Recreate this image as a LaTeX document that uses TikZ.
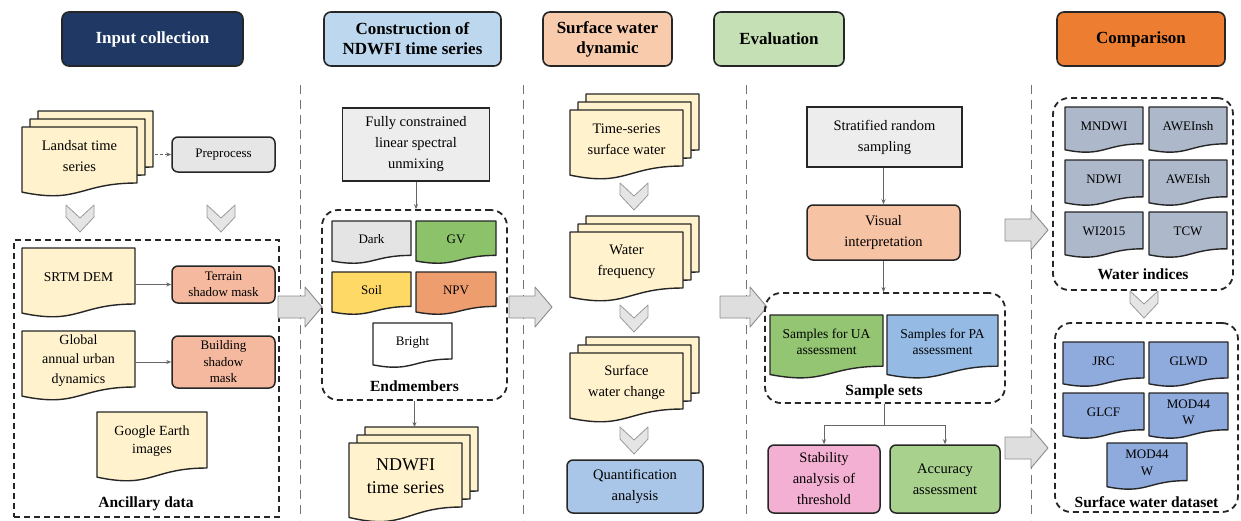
\documentclass[tikz,border=0pt]{standalone}
\usepackage{fontspec}
\setmainfont{Liberation Serif}
\usetikzlibrary{arrows.meta}
\definecolor{navy}{HTML}{203864}
\definecolor{tblue}{HTML}{BDD7EE}
\definecolor{tpeach}{HTML}{F8CBAD}
\definecolor{tgreen}{HTML}{C5E0B4}
\definecolor{torange}{HTML}{ED7D31}
\definecolor{cream}{HTML}{FFF2CC}
\definecolor{lgray}{HTML}{E7E6E6}
\definecolor{salmon}{HTML}{F4B99E}
\definecolor{lgraytwo}{HTML}{EDEDED}
\definecolor{dgray}{HTML}{E4E4E4}
\definecolor{gvgreen}{HTML}{8CC26A}
\definecolor{soilyel}{HTML}{FFD966}
\definecolor{npvor}{HTML}{EE9E6E}
\definecolor{qblue}{HTML}{A9C6E8}
\definecolor{peachtwo}{HTML}{F7C3A5}
\definecolor{greentwo}{HTML}{93C572}
\definecolor{bluetwo}{HTML}{95BBE5}
\definecolor{pinkbox}{HTML}{F4B0D2}
\definecolor{greenthree}{HTML}{A9D18E}
\definecolor{wgray}{HTML}{ADB9CA}
\definecolor{dsblue}{HTML}{8FAADC}
\newcommand{\fA}{\fontsize{14.5}{21}\selectfont}
\newcommand{\fB}{\fontsize{13}{16.5}\selectfont}
\newcommand{\fC}{\fontsize{13.5}{16.5}\selectfont}
\newcommand{\fD}{\fontsize{14}{19.5}\selectfont}
\newcommand{\fT}{\fontsize{17}{20}\selectfont\bfseries}
\newcommand{\fL}{\fontsize{15.5}{18}\selectfont\bfseries}
\newcommand{\docshape}[5]{%
  \draw[docline, fill=#5] ({#1},{#2}) -- ({#3},{#2}) -- ({#3},{(#2)+0.8*((#4)-(#2))})
   .. controls ({((#1)+(#3))/2},{(#2)+0.8*((#4)-(#2))}) and ({((#1)+(#3))/2},{(#2)+1.1*((#4)-(#2))})
   .. ({#1},{(#2)+0.93*((#4)-(#2))}) -- cycle;}
\newcommand{\docnode}[8]{%
  \docshape{#2}{#3}{#4}{#5}{#6}
  \node[txt, font=#7, minimum width={(#4)-(#2)}, minimum height={0.84*((#5)-(#3))}]
    (#1) at ({((#2)+(#4))/2},{(#3)+0.42*((#5)-(#3))}) {#8};}
\newcommand{\stackdoc}[8]{%
  \docshape{(#2)+16}{(#3)-16}{(#4)+16}{(#5)-16}{#6}
  \docshape{(#2)+8}{(#3)-8}{(#4)+8}{(#5)-8}{#6}
  \docnode{#1}{#2}{#3}{#4}{#5}{#6}{#7}{#8}}
\newcommand{\mychev}[2]{%
  \draw[chev] ({(#1)-14},{#2}) -- ({#1},{(#2)+13}) -- ({(#1)+14},{#2}) -- ({(#1)+14},{(#2)+12})
   -- ({#1},{(#2)+27}) -- ({(#1)-14},{(#2)+12}) -- cycle;}
\newcommand{\myarrow}[3]{%
  \draw[barrow] ({#1},{(#3)-11}) -- ({(#2)-17},{(#3)-11}) -- ({(#2)-17},{(#3)-20}) -- ({#2},{#3})
   -- ({(#2)-17},{(#3)+20}) -- ({(#2)-17},{(#3)+11}) -- ({#1},{(#3)+11}) -- cycle;}
\begin{document}
\begin{tikzpicture}[x=1pt,y=-1pt,
  title/.style={draw=black!85, line width=1.6pt, rounded corners=7pt, minimum height=54pt, align=center, font=\fT, inner sep=2pt},
  rbox/.style={draw=black!85, line width=1.5pt, rounded corners=6pt, align=center, font=\fA, inner sep=2pt},
  sbox/.style={draw=black!85, line width=1.5pt, align=center, font=\fA, inner sep=2pt},
  txt/.style={align=center, inner sep=0pt},
  docline/.style={draw=black!85, line width=1.4pt, line join=round},
  grp/.style={draw=black!85, dash pattern=on 6pt off 4pt, line width=1.8pt, inner sep=0pt},
  lbl/.style={font=\fL, inner sep=0pt},
  sep/.style={draw=black!55, line width=0.8pt, dash pattern=on 9pt off 6pt},
  conn/.style={draw=black!60, line width=0.9pt, -{Stealth[length=5pt,width=4pt]}},
  plain/.style={draw=black!60, line width=0.9pt},
  chev/.style={draw=black!40, fill=black!10, line width=0.8pt, line join=round},
  barrow/.style={draw=black!45, fill=black!13, line width=0.9pt, line join=round}]
\useasboundingbox[fill=white] (0,0) rectangle (1241,520);

% separators
\draw[sep] (300,85) -- (300,520);
\draw[sep] (523,85) -- (523,520);
\draw[sep] (746,85) -- (746,520);
\draw[sep] (1031,85) -- (1031,520);

% titles
\node[title, fill=navy, text=white, minimum width=181] (t1) at (152.5,39) {Input collection};
\node[title, fill=tblue, minimum width=177] (t2) at (412.5,39) {Construction of\\NDWFI time series};
\node[title, fill=tpeach, minimum width=129] (t3) at (607.5,39) {Surface water\\dynamic};
\node[title, fill=tgreen, minimum width=130] (t4) at (779,39) {Evaluation};
\node[title, fill=torange, minimum width=168] (t5) at (1141,39) {Comparison};

% ---------- column 1
\stackdoc{landsat}{22}{127}{137}{197}{cream}{\fA}{Landsat time\\series}
\node[rbox, fill=lgray, font=\fB, minimum width=103, minimum height=35] (prep) at (223.5,154.5) {Preprocess};
\coordinate (landsatR) at (155,154.5);
\draw[conn, dash pattern=on 3pt off 2pt] (landsatR) -- (prep.west);
\mychev{80}{205}
\mychev{221}{205}
\node[grp, minimum width=265, minimum height=277] (anc) at (146.5,378.5) {};
\docnode{srtm}{22}{248}{135}{318}{cream}{\fC}{SRTM DEM}
\node[rbox, fill=salmon, font=\fB, minimum width=103, minimum height=37] (terrain) at (223.5,284.5) {Terrain\\shadow mask};
\draw[conn] (srtm.east |- terrain.west) -- (terrain.west);
\docnode{gaud}{22}{331}{135}{401}{cream}{\fD}{Global\\annual urban\\dynamics}
\node[rbox, fill=salmon, font=\fB, minimum width=103, minimum height=52] (bsm) at (223.5,362) {Building\\shadow\\mask};
\draw[conn] (gaud.east |- bsm.west) -- (bsm.west);
\docnode{google}{97}{412}{207}{482}{cream}{\fontsize{14}{18}\selectfont}{Google Earth\\images}
\node[lbl] (anclbl) at (146,504) {Ancillary data};
\myarrow{278}{322}{307}

% ---------- column 2
\node[sbox, fill=lgraytwo, minimum width=147, minimum height=73] (fclsu) at (416,144.5) {Fully constrained\\linear spectral\\unmixing};
\node[grp, rounded corners=16pt, minimum width=185, minimum height=190] (endm) at (414.5,305) {};
\draw[conn] (fclsu.south) -- (fclsu.south |- endm.north);
\docnode{dark}{332}{221}{411}{264}{dgray}{\fB}{Dark}
\docnode{gv}{416}{221}{496}{264}{gvgreen}{\fB}{GV}
\docnode{soil}{332}{272}{411}{315}{soilyel}{\fB}{Soil}
\docnode{npv}{416}{272}{496}{315}{npvor}{\fB}{NPV}
\docnode{bright}{373}{323}{452}{368}{white}{\fB}{Bright}
\node[lbl] (endlbl) at (414.5,386) {Endmembers};
\stackdoc{ndwfi}{349}{443}{462}{523}{cream}{\fontsize{18}{23}\selectfont}{NDWFI\\time series}
\coordinate (ndwfitop) at (414.5,427);
\draw[conn] (endm.south) -- (ndwfitop);
\myarrow{509}{552}{307}

% ---------- column 3
\stackdoc{tssw}{570}{110}{683}{180}{cream}{\fA}{Time-series\\surface water}
\mychev{634}{183}
\stackdoc{wfreq}{570}{232}{683}{302}{cream}{\fA}{Water\\frequency}
\mychev{634}{305}
\stackdoc{swc}{570}{353}{683}{423}{cream}{\fA}{Surface\\water change}
\mychev{634}{427}
\node[rbox, fill=qblue, minimum width=136, minimum height=53] (quant) at (635,486.5) {Quantification\\analysis};
\myarrow{720}{767}{307}

% ---------- column 4
\node[sbox, fill=lgraytwo, minimum width=155, minimum height=60] (strat) at (884.5,137) {Stratified random\\sampling};
\node[rbox, fill=peachtwo, minimum width=153, minimum height=55] (visual) at (883.5,232.5) {Visual\\interpretation};
\draw[conn] (strat.south -| visual.north) -- (visual.north);
\node[grp, rounded corners=16pt, minimum width=240, minimum height=110] (ssets) at (885,348) {};
\draw[conn] (visual.south) -- (visual.south |- ssets.north);
\docnode{ua}{770}{315}{883}{379}{greentwo}{\fC}{Samples for UA\\assessment}
\docnode{pa}{887}{315}{998}{379}{bluetwo}{\fC}{Samples for PA\\assessment}
\node[lbl] (sslbl) at (884,392) {Sample sets};
\node[rbox, fill=pinkbox, minimum width=112, minimum height=68] (stab) at (824,479) {Stability\\analysis of\\threshold};
\node[rbox, fill=greenthree, minimum width=110, minimum height=68] (acc) at (945,479) {Accuracy\\assessment};
\coordinate (split) at (884,425);
\draw[plain] (ssets.south -| split) -- (split);
\draw[conn] (split) -| (stab.north);
\draw[conn] (split) -| (acc.north);
\myarrow{1005}{1048}{230}
\myarrow{1005}{1048}{448}

% ---------- column 5
\node[grp, rounded corners=16pt, minimum width=180, minimum height=192] (wi) at (1143,194) {};
\docnode{mndwi}{1065}{107}{1143}{153}{wgray}{\fB}{MNDWI}
\docnode{aweinsh}{1149}{107}{1227}{153}{wgray}{\fB}{AWEInsh}
\docnode{ndwi}{1065}{160}{1143}{206}{wgray}{\fB}{NDWI}
\docnode{aweish}{1149}{160}{1227}{206}{wgray}{\fB}{AWEIsh}
\docnode{wi2015}{1065}{212}{1143}{258}{wgray}{\fB}{WI2015}
\docnode{tcw}{1149}{212}{1227}{258}{wgray}{\fB}{TCW}
\node[lbl] (wilbl) at (1143,274) {Water indices};
\node[grp, rounded corners=16pt, minimum width=183, minimum height=189] (swd) at (1146.5,417.5) {};
\mychev{1144}{291}
\docnode{jrc}{1063}{342}{1144}{387}{dsblue}{\fB}{JRC}
\docnode{glwd}{1149}{342}{1228}{387}{dsblue}{\fB}{GLWD}
\docnode{glcf}{1063}{393}{1144}{439}{dsblue}{\fB}{GLCF}
\docnode{modA}{1149}{393}{1228}{439}{dsblue}{\fB}{MOD44\\W}
\docnode{modB}{1107}{443}{1187}{490}{dsblue}{\fB}{MOD44\\W}
\node[lbl] (swdlbl) at (1146.5,502) {Surface water dataset};
\end{tikzpicture}
\end{document}
